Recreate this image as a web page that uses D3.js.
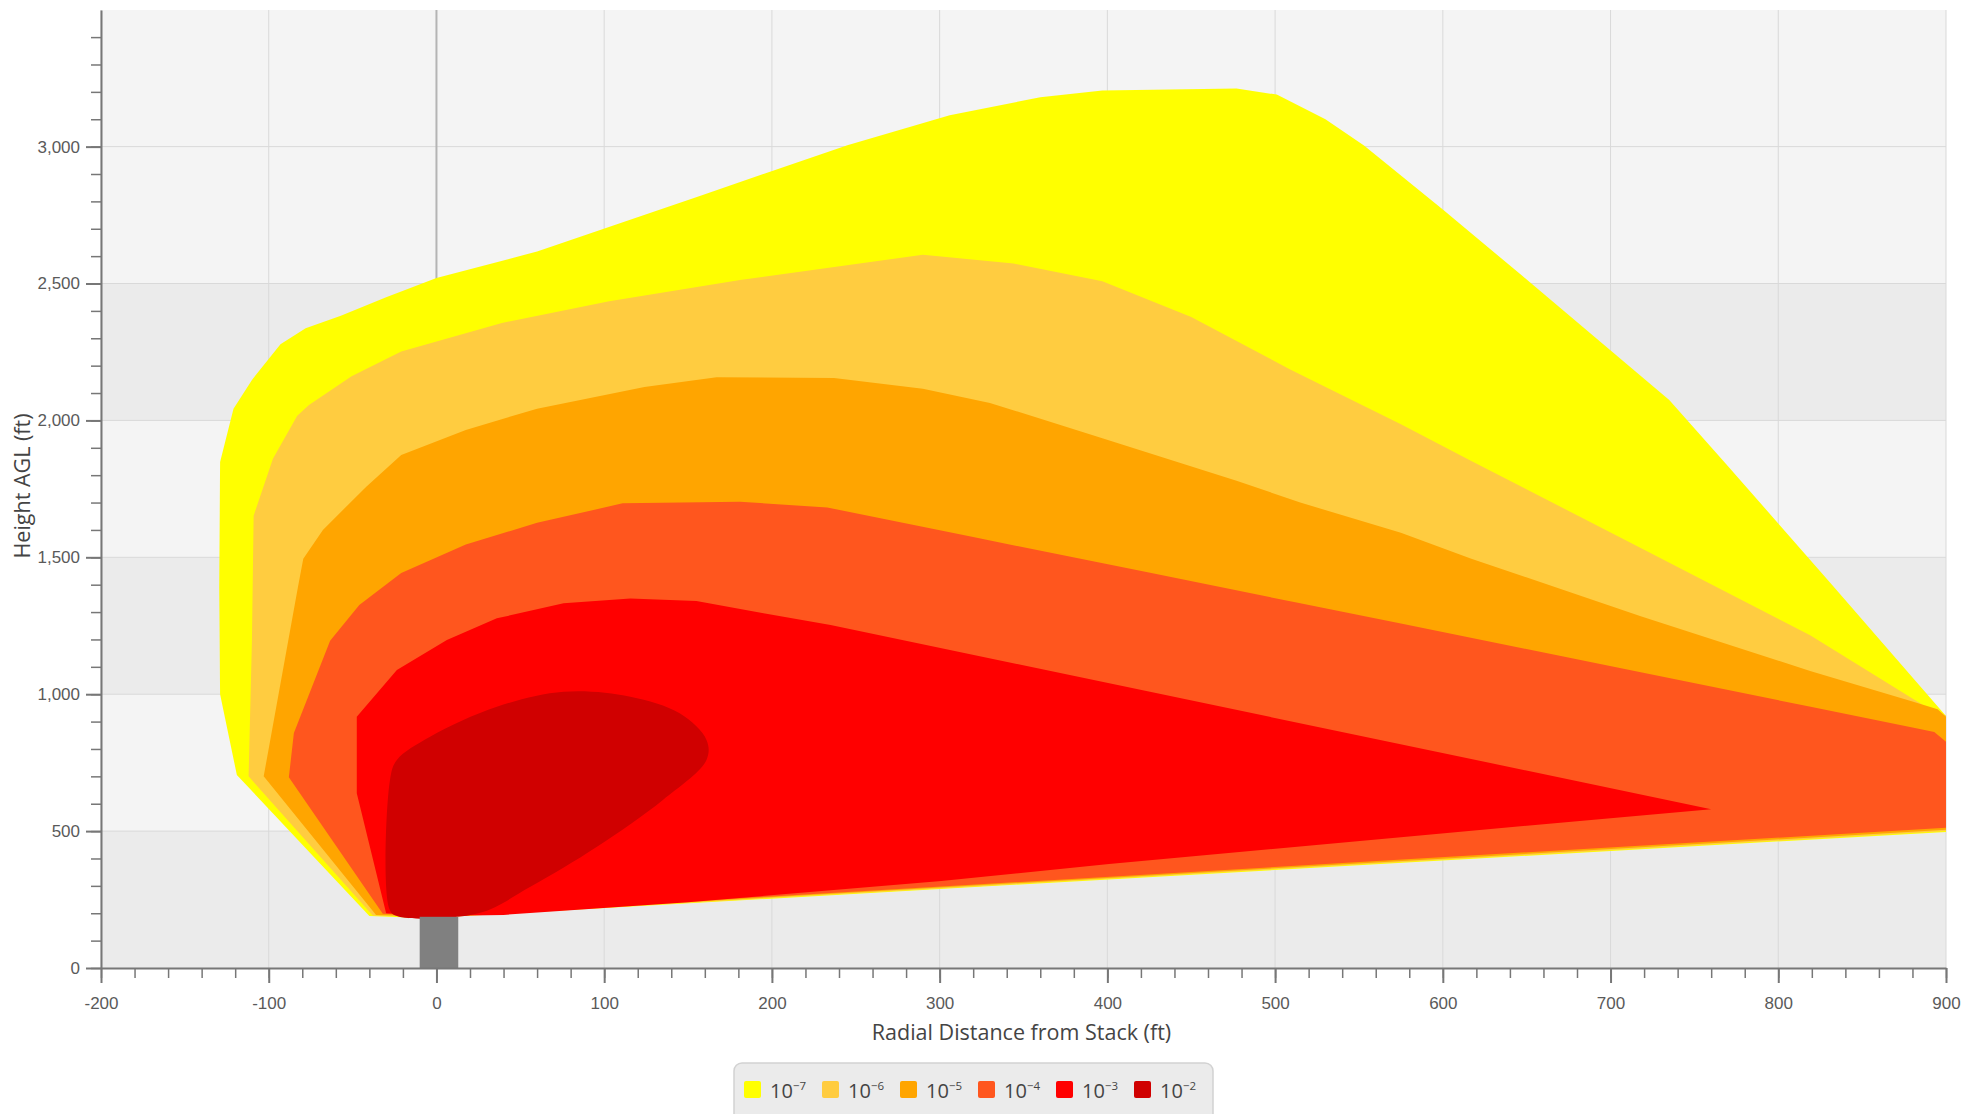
<!DOCTYPE html>
<html>
<head>
<meta charset="utf-8">
<script src="https://cdn.jsdelivr.net/npm/d3@7"></script>
<style>
  html, body { margin: 0; padding: 0; background: #ffffff; }
  svg { display: block; font-family: "Open Sans", "Noto Sans", sans-serif; }
</style>
</head>
<body>
<svg id="chart" width="1966" height="1114"></svg>
<script>
// ---------------- data ----------------
const xTickValues = [-200, -100, 0, 100, 200, 300, 400, 500, 600, 700, 800, 900];
const yTickValues = [0, 500, 1000, 1500, 2000, 2500, 3000];
const xDomain = [-200, 900];
const yDomain = [0, 3499];

const exponents = [-7, -6, -5, -4, -3, -2];
const colors = ["#ffff00", "#ffcc40", "#ffa500", "#ff561e", "#ff0000", "#d00000"];

// contour outlines, [radial distance ft, height ft]
const contour7 = [[-40,190],[-119,705],[-129,1000],[-129.5,1391],[-129,1848],[-121,2043],[-110,2148],[-93,2278],[-78,2337],[-57,2382],[-30,2450],[0,2520],[60,2617],[157,2820],[245,3005],[306,3115],[360,3180],[397,3205],[477,3212],[501,3190],[530,3100],[553,3004],[600,2770],[647,2530],[735,2075],[769,1840],[832,1400],[900,920],[900,497],[0,184],[-20,185]];
const contour6 = [[-38,192],[-112,700],[-110,1200],[-109,1652],[-97.5,1860],[-83,2017],[-76,2056],[-50.6,2161],[-21,2252],[39,2356],[103,2435],[181,2513],[290,2605],[344,2573],[397,2508],[450,2378],[509,2186],[575,1986],[617,1852],[718,1534],[819,1215],[893,935],[900,922],[900,500],[0,186]];
const contour5 = [[-36,194],[-103,700],[-82.6,1391],[-79.4,1495],[-67.7,1600],[-42,1757],[-21,1874],[17.5,1965],[60,2043],[124,2122],[167,2158],[237,2155],[290,2116],[330,2064],[397,1935],[477,1780],[515,1700],[575,1590],[617,1495],[718,1285],[819,1085],[880,973],[895,945],[900,918],[900,505],[0,188]];
const contour4 = [[-32,198],[-88,697],[-85,858],[-63.4,1195],[-46,1326],[-21,1443],[17.5,1547],[60,1626],[111,1697],[181,1703],[233,1682],[320,1574],[424,1445],[515,1332],[575,1258],[718,1080],[820,953],[880,878],[893,862],[900,826],[900,512],[0,190]];
const contour3 = [[-30,200],[-47.5,638],[-47.5,918],[-23.6,1088],[6.2,1198],[36,1277],[75.8,1332],[115.6,1350],[155,1340],[195,1296],[235,1253],[760,580],[575,478],[401,380],[301,318],[150,240],[40,194],[0,190]];
const contour2 = [[-23.6,190],[-28,215],[-27.7,687],[-23.6,760],[-3.8,845],[36,954],[75.8,1009],[115.6,991],[145,930],[161,833],[161,760],[135,614],[95.7,443],[56,297],[25,200]];
const contours = [contour7, contour6, contour5, contour4, contour3, contour2];

const stackX = [-10, 13];
const stackHeight = 187;

// ---------------- layout ----------------
const svg = d3.select("#chart");
const plot = { left: 101, right: 1946, top: 10, bottom: 968 };
const x = d3.scaleLinear().domain(xDomain).range([plot.left, plot.right]);
const y = d3.scaleLinear().domain(yDomain).range([plot.bottom, plot.top]);

svg.append("defs").append("clipPath").attr("id", "plotClip")
  .append("rect").attr("x", plot.left).attr("y", plot.top)
  .attr("width", plot.right - plot.left).attr("height", plot.bottom - plot.top);

// background
svg.append("rect").attr("x", plot.left).attr("y", plot.top)
  .attr("width", plot.right - plot.left).attr("height", plot.bottom - plot.top)
  .attr("fill", "#f4f4f4");

// alternating row fill
const bands = yTickValues.slice(0, -1).map((v, i) => [v, yTickValues[i + 1]]).filter((d, i) => i % 2 === 0);
svg.append("g").selectAll("rect").data(bands).join("rect")
  .attr("x", plot.left).attr("width", plot.right - plot.left)
  .attr("y", d => y(d[1])).attr("height", d => y(d[0]) - y(d[1]))
  .attr("fill", "#ebebeb");

// grid
const grid = svg.append("g");
grid.selectAll("line.v").data(xTickValues.filter(v => v !== 0)).join("line")
  .attr("x1", d => x(d)).attr("x2", d => x(d))
  .attr("y1", plot.top).attr("y2", plot.bottom)
  .attr("stroke", "#d9d9d9").attr("stroke-width", 1);
grid.selectAll("line.h").data(yTickValues.filter(v => v !== 0)).join("line")
  .attr("x1", plot.left).attr("x2", plot.right)
  .attr("y1", d => y(d)).attr("y2", d => y(d))
  .attr("stroke", "#d9d9d9").attr("stroke-width", 1);
// zero line
grid.append("line").attr("x1", x(0)).attr("x2", x(0))
  .attr("y1", plot.top).attr("y2", plot.bottom)
  .attr("stroke", "#b4b4b4").attr("stroke-width", 2);

// contours
const line = d3.line().x(d => x(d[0])).y(d => y(d[1])).curve(d3.curveLinearClosed);
const smooth = d3.line().x(d => x(d[0])).y(d => y(d[1])).curve(d3.curveCatmullRomClosed.alpha(0.5));
svg.append("g").attr("clip-path", "url(#plotClip)")
  .selectAll("path").data(contours).join("path")
  .attr("d", (d, i) => i === contours.length - 1 ? smooth(d) : line(d))
  .attr("fill", (d, i) => colors[i]);

// stack
svg.append("rect")
  .attr("x", x(stackX[0])).attr("width", x(stackX[1]) - x(stackX[0]))
  .attr("y", y(stackHeight)).attr("height", y(0) - y(stackHeight))
  .attr("fill", "#808080");

// axes
const axisColor = "#777777";
const labelColor = "#5a5a5a";

const xMinor = d3.range(-200, 901, 20);
const gxm = svg.append("g").attr("transform", `translate(0,${plot.bottom})`)
  .call(d3.axisBottom(x).tickValues(xMinor).tickSize(10).tickFormat(""));
gxm.select(".domain").remove();
gxm.selectAll("line").attr("stroke", axisColor).attr("stroke-width", 1.5);

const gx = svg.append("g").attr("transform", `translate(0,${plot.bottom})`)
  .call(d3.axisBottom(x).tickValues(xTickValues).tickSize(15).tickSizeOuter(0).tickPadding(14).tickFormat(d => String(d)));
gx.select(".domain").attr("stroke", axisColor).attr("stroke-width", 2);
gx.selectAll("line").attr("stroke", axisColor).attr("stroke-width", 2);
gx.selectAll("text").attr("fill", labelColor).style("font-size", "17px");

const yMinor = d3.range(0, 3401, 100);
const gym = svg.append("g").attr("transform", `translate(${plot.left},0)`)
  .call(d3.axisLeft(y).tickValues(yMinor).tickSize(10).tickFormat(""));
gym.select(".domain").remove();
gym.selectAll("line").attr("stroke", axisColor).attr("stroke-width", 1.5);

const gy = svg.append("g").attr("transform", `translate(${plot.left},0)`)
  .call(d3.axisLeft(y).tickValues(yTickValues).tickSize(15).tickSizeOuter(0).tickPadding(6).tickFormat(d3.format(",")));
gy.select(".domain").attr("stroke", axisColor).attr("stroke-width", 2);
gy.selectAll("line").attr("stroke", axisColor).attr("stroke-width", 2);
gy.selectAll("text").attr("fill", labelColor).style("font-size", "17px");

// axis titles
svg.append("text").attr("x", (plot.left + plot.right) / 2 - 2).attr("y", 1040)
  .attr("text-anchor", "middle").attr("fill", "#444").style("font-size", "21.5px")
  .text("Radial Distance from Stack (ft)");
svg.append("text").attr("transform", `translate(30,${(plot.top + plot.bottom) / 2 - 3}) rotate(-90)`)
  .attr("text-anchor", "middle").attr("fill", "#444").style("font-size", "21.5px")
  .text("Height AGL (ft)");

// legend
const legend = svg.append("g");
legend.append("rect").attr("x", 734).attr("y", 1063).attr("width", 479).attr("height", 60)
  .attr("rx", 8).attr("fill", "#ebebeb").attr("stroke", "#d2d2d2").attr("stroke-width", 1.5);
const items = legend.selectAll("g.item").data(exponents).join("g")
  .attr("transform", (d, i) => `translate(${744 + i * 78},1081)`);
items.append("rect").attr("width", 17).attr("height", 17).attr("rx", 2)
  .attr("fill", (d, i) => colors[i]);
const lt = items.append("text").attr("x", 26).attr("y", 17).attr("fill", "#444").style("font-size", "20px");
lt.append("tspan").text("10");
lt.append("tspan").attr("dy", -8).style("font-size", "11.5px").text(d => "\u2212" + Math.abs(d));
</script>
</body>
</html>
